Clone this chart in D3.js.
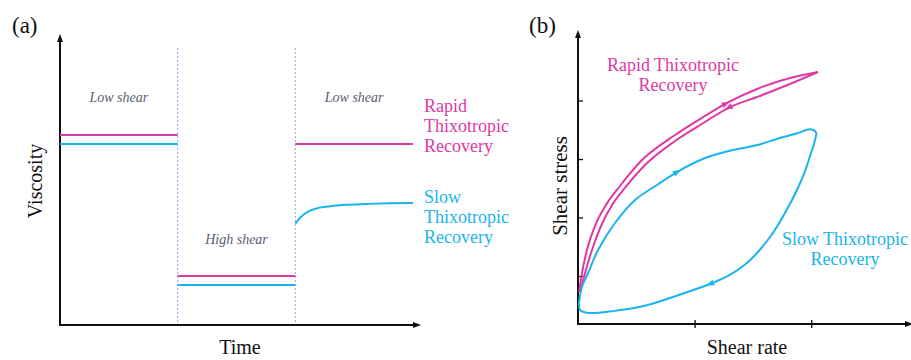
<!DOCTYPE html>
<html lang="en">
<head>
<meta charset="UTF-8">
<title>Thixotropic recovery</title>
<script src="https://d3js.org/d3.v7.min.js"></script>
<style>
  body { margin: 0; background: #fff; }
  text { font-family: "Palatino Linotype", Palatino, "Liberation Serif", "DejaVu Serif", serif; }
</style>
</head>
<body>
<div id="chart"></div>
<script>
// ---- panel (a): viscosity vs time ----
var phases = ["Low shear", "High shear", "Low shear"];
var phaseStart = [0, 1, 2];
var rapidVisc = [66.7, 17.2, 63.5];      // one level per phase
var slowVisc = [63.5, 14.0];              // first two phases are flat
var slowRecT = [2.0, 2.04, 2.1, 2.18, 2.3, 2.45, 2.62, 2.8, 3.0];
var slowRecV = [35.6, 37.6, 39.6, 40.9, 41.7, 42.2, 42.5, 42.7, 42.8];

// ---- panel (b): shear stress vs shear rate ----
var rapidUpX = [0.009, 0.034, 0.077, 0.146, 0.240, 0.360, 0.549, 0.832, 1.089, 1.278, 1.535, 1.818, 2.058];
var rapidUpY = [0.547, 0.872, 1.265, 1.675, 2.034, 2.359, 2.803, 3.231, 3.556, 3.778, 4.017, 4.205, 4.308];
var rapidDnX = [2.058, 1.818, 1.535, 1.286, 1.089, 0.832, 0.575, 0.395, 0.292, 0.197, 0.120, 0.060, 0.017];
var rapidDnY = [4.308, 4.103, 3.880, 3.692, 3.453, 3.128, 2.718, 2.308, 2.034, 1.675, 1.265, 0.872, 0.547];
var slowX = [0.009, 0.034, 0.086, 0.172, 0.317, 0.489, 0.678, 0.849, 1.07, 1.30, 1.54, 1.73, 1.88, 1.99,
             2.04, 2.033, 1.998, 1.947, 1.878, 1.784, 1.647, 1.458, 1.286, 1.132, 0.87, 0.59, 0.30, 0.08, 0.017, 0.009];
var slowY = [0.376, 0.632, 0.872, 1.265, 1.726, 2.120, 2.376, 2.598, 2.82, 2.96, 3.06, 3.18, 3.26, 3.33,
             3.28, 3.145, 2.923, 2.615, 2.291, 1.932, 1.487, 1.060, 0.821, 0.684, 0.50, 0.32, 0.22, 0.19, 0.24, 0.376];
var xTicksB = [1, 2];
var yTicksB = [0.82, 1.82, 2.82, 3.82];

var rapidColor = "#dd3aa4";
var slowColor = "#1ab4ec";

var W = 911, H = 360;
var svg = d3.select("#chart").append("svg")
    .attr("width", W).attr("height", H);

function arrowHead(g, x, y, ang, col) {
    g.append("path")
        .attr("d", "M4,0 L-4,-3 L-4,3 Z")
        .attr("fill", col)
        .attr("transform", "translate(" + x + "," + y + ") rotate(" + ang + ")");
}

// ================= panel (a) =================
var gA = svg.append("g");
var xA = d3.scaleLinear().domain([0, 3]).range([60, 413]);
var yA = d3.scaleLinear().domain([0, 100]).range([325, 40]);

// phase dividers
gA.selectAll("line.div").data([1, 2]).enter().append("line")
    .attr("x1", d => xA(d)).attr("x2", d => xA(d))
    .attr("y1", 48).attr("y2", 325)
    .attr("stroke", "#86a4ea").attr("stroke-width", 1)
    .attr("stroke-dasharray", "2,2");

// axes with arrows
gA.append("line").attr("x1", 60).attr("x2", 60).attr("y1", 326).attr("y2", 42)
    .attr("stroke", "#111").attr("stroke-width", 2);
gA.append("line").attr("x1", 59).attr("x2", 414).attr("y1", 325).attr("y2", 325)
    .attr("stroke", "#111").attr("stroke-width", 2);
arrowHead(gA, 60, 38, -90, "#111");
arrowHead(gA, 417, 325, 0, "#111");

// flat viscosity levels
gA.selectAll("line.rapid").data(rapidVisc).enter().append("line")
    .attr("x1", (d, i) => xA(phaseStart[i])).attr("x2", (d, i) => xA(phaseStart[i] + 1))
    .attr("y1", d => yA(d)).attr("y2", d => yA(d))
    .attr("stroke", rapidColor).attr("stroke-width", 2);
gA.selectAll("line.slow").data(slowVisc).enter().append("line")
    .attr("x1", (d, i) => xA(phaseStart[i])).attr("x2", (d, i) => xA(phaseStart[i] + 1))
    .attr("y1", d => yA(d)).attr("y2", d => yA(d))
    .attr("stroke", slowColor).attr("stroke-width", 2);

var recLine = d3.line().x(d => xA(d[0])).y(d => yA(d[1])).curve(d3.curveMonotoneX);
gA.append("path")
    .attr("d", recLine(d3.zip(slowRecT, slowRecV)))
    .attr("fill", "none").attr("stroke", slowColor).attr("stroke-width", 2);

// phase labels
var phaseY = [102, 244, 102];
gA.selectAll("text.phase").data(phases).enter().append("text")
    .attr("x", (d, i) => xA(phaseStart[i] + 0.5)).attr("y", (d, i) => phaseY[i])
    .attr("text-anchor", "middle").attr("font-style", "italic")
    .attr("font-size", 14).attr("fill", "#585d70")
    .text(d => d);

function multiText(g, lines, x, y0, dy, col, anchor) {
    lines.forEach(function(s, i) {
        g.append("text").attr("x", x).attr("y", y0 + i * dy)
            .attr("font-size", 18).attr("fill", col)
            .attr("text-anchor", anchor).text(s);
    });
}
multiText(gA, ["Rapid", "Thixotropic", "Recovery"], 424, 112, 20, rapidColor, "start");
multiText(gA, ["Slow", "Thixotropic", "Recovery"], 424, 203, 20, slowColor, "start");

gA.append("text").attr("x", 12).attr("y", 33).attr("font-size", 23).attr("fill", "#111").text("(a)");
gA.append("text").attr("transform", "translate(42,181) rotate(-90)")
    .attr("text-anchor", "middle").attr("font-size", 20).attr("fill", "#111").text("Viscosity");
gA.append("text").attr("x", 240).attr("y", 354)
    .attr("text-anchor", "middle").attr("font-size", 20).attr("fill", "#111").text("Time");

// ================= panel (b) =================
var gB = svg.append("g");
var xB = d3.scaleLinear().domain([0, 2.83]).range([578, 908]);
var yB = d3.scaleLinear().domain([0, 5]).range([324, 31.5]);

gB.append("g").attr("transform", "translate(578,0)")
    .call(d3.axisLeft(yB).tickValues(yTicksB).tickSize(-5).tickFormat(""))
    .call(g => g.select(".domain").remove())
    .selectAll("line").attr("stroke", "#111").attr("stroke-width", 1.3);
gB.append("g").attr("transform", "translate(0,320)")
    .call(d3.axisBottom(xB).tickValues(xTicksB).tickSize(8).tickFormat(""))
    .call(g => g.select(".domain").remove())
    .selectAll("line").attr("stroke", "#111").attr("stroke-width", 1.3);

gB.append("line").attr("x1", 578).attr("x2", 578).attr("y1", 325).attr("y2", 37)
    .attr("stroke", "#111").attr("stroke-width", 2);
gB.append("line").attr("x1", 577).attr("x2", 906).attr("y1", 324).attr("y2", 324)
    .attr("stroke", "#111").attr("stroke-width", 2);
arrowHead(gB, 578, 34, -90, "#111");
arrowHead(gB, 909, 324, 0, "#111");

var loopLine = d3.line().x(d => xB(d[0])).y(d => yB(d[1])).curve(d3.curveCatmullRom.alpha(0.5));
var branchLine = d3.line().x(d => xB(d[0])).y(d => yB(d[1])).curve(d3.curveMonotoneX);

function drawCurve(xs, ys, col, arrowAt, gen) {
    var p = gB.append("path")
        .attr("d", gen(d3.zip(xs, ys)))
        .attr("fill", "none").attr("stroke", col).attr("stroke-width", 2);
    var node = p.node(), L = node.getTotalLength();
    arrowAt.forEach(function(a) {
        var tx = xB(a[0]), ty = yB(a[1]), best = 0, bd = 1e9;
        for (var s = 0; s <= L; s += 0.5) {
            var q = node.getPointAtLength(s);
            var dd = (q.x - tx) * (q.x - tx) + (q.y - ty) * (q.y - ty);
            if (dd < bd) { bd = dd; best = s; }
        }
        var q0 = node.getPointAtLength(Math.max(0, best - 2));
        var q1 = node.getPointAtLength(Math.min(L, best + 2));
        var q = node.getPointAtLength(best);
        var ang = Math.atan2(q1.y - q0.y, q1.x - q0.x) * 180 / Math.PI;
        arrowHead(gB, q.x, q.y, ang, col);
    });
}
drawCurve(rapidUpX, rapidUpY, rapidColor, [[1.26, 3.80]], branchLine);
drawCurve(rapidDnX, rapidDnY, rapidColor, [[1.29, 3.69]], branchLine);
drawCurve(slowX, slowY, slowColor, [[0.85, 2.60], [1.13, 0.68]], loopLine);

multiText(gB, ["Rapid Thixotropic", "Recovery"], 673, 71, 20, rapidColor, "middle");
multiText(gB, ["Slow Thixotropic", "Recovery"], 845, 245, 20, slowColor, "middle");

gB.append("text").attr("x", 529).attr("y", 33).attr("font-size", 23).attr("fill", "#111").text("(b)");
gB.append("text").attr("transform", "translate(567,186) rotate(-90)")
    .attr("text-anchor", "middle").attr("font-size", 21).attr("fill", "#111").text("Shear stress");
gB.append("text").attr("x", 747).attr("y", 354)
    .attr("text-anchor", "middle").attr("font-size", 20).attr("fill", "#111").text("Shear rate");
</script>
</body>
</html>
